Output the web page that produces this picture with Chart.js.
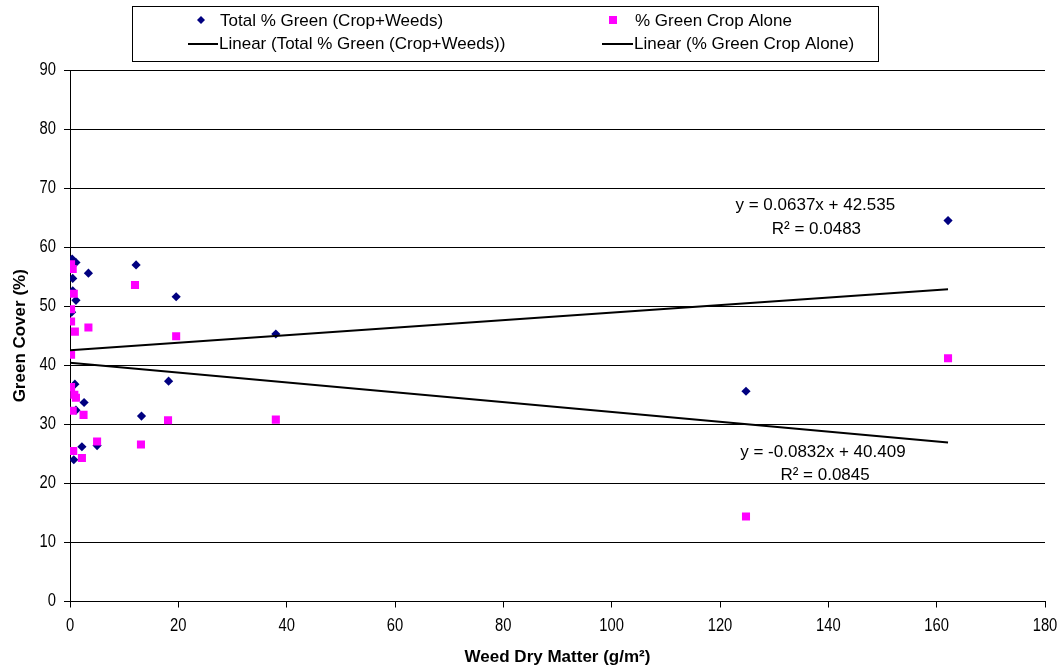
<!DOCTYPE html>
<html>
<head>
<meta charset="utf-8">
<title>Green Cover vs Weed Dry Matter</title>
<script src="https://cdn.jsdelivr.net/npm/chart.js@4/dist/chart.umd.min.js"></script>
<style>
  html, body { margin: 0; padding: 0; background: #fff; }
  #wrap { width: 1061px; height: 670px; }
</style>
</head>
<body>
<div id="wrap"><canvas id="chart" width="1061" height="670"></canvas></div>
<script>
// Total % green (crop + weeds) per plot
const totalX = [0.4, 1.1, 3.4, 0.5, 0.5, 1.1, 0.3, 0.9, 2.6, 1.1, 2.2, 5.0, 0.7, 12.2, 19.6, 18.2, 13.2, 38.0, 124.8, 162.1];
const totalY = [58.0, 57.4, 55.6, 54.7, 52.6, 51.0, 49.0, 36.8, 33.7, 32.4, 26.2, 26.4, 24.0, 57.0, 51.6, 37.3, 31.4, 45.3, 35.6, 64.5];

// % green crop alone per plot
const cropX = [0.2, 0.5, 12.0, 0.7, 0.2, 0.2, 0.9, 3.4, 19.6, 0.2, 0.2, 0.8, 1.1, 0.5, 2.5, 18.1, 5.0, 13.1, 0.6, 2.2, 38.0, 124.8, 162.1];
const cropY = [57.1, 56.3, 53.6, 52.1, 49.5, 47.4, 45.7, 46.4, 44.9, 41.8, 36.3, 35.0, 34.5, 32.3, 31.6, 30.7, 27.1, 26.6, 25.5, 24.3, 30.8, 14.4, 41.2];

// linear fits: [slope, intercept], and r squared
const totalFit = [0.0637, 42.535];
const cropFit = [-0.0832, 40.409];
const totalR2 = '0.0483';
const cropR2 = '0.0845';

const seriesNames = ['Total % Green (Crop+Weeds)', '% Green Crop Alone'];
const xTitle = 'Weed Dry Matter (g/m\u00b2)';
const yTitle = 'Green Cover (%)';

const NAVY = '#000080';
const PINK = '#ff00ff';
const FONT = "'Liberation Sans', Arial, sans-serif";
const CLEAR = 'rgba(0,0,0,0)';

function toPoints(xs, ys) {
  return xs.map((x, i) => ({ x: x, y: ys[i] }));
}

// trend line runs across the range of the data
function fitLine(fit, xs) {
  const lo = Math.min(...xs.concat([0]));
  const hi = Math.max(...xs);
  return [lo, hi].map(x => ({ x: x, y: fit[0] * x + fit[1] }));
}

function fmtEq(fit) {
  const sign = fit[1] < 0 ? '- ' : '+ ';
  return 'y = ' + fit[0] + 'x ' + sign + Math.abs(fit[1]);
}

// narrow tick text: squeeze the glyphs horizontally
function narrowText(ctx, text, x, y, align) {
  const sx = 0.82;
  ctx.save();
  ctx.translate(x, y);
  ctx.scale(sx, 1);
  ctx.textAlign = align;
  ctx.fillText(text, 0, 0);
  ctx.restore();
}

// two-column legend in a box, tick labels, and the regression equations
const extras = {
  id: 'extras',
  afterDraw(chart) {
    const ctx = chart.ctx;
    const xs = chart.scales.x, ys = chart.scales.y;
    ctx.save();

    // tick labels
    ctx.font = '18px ' + FONT;
    ctx.fillStyle = '#000';
    ctx.textBaseline = 'middle';
    xs.ticks.forEach(t => narrowText(ctx, String(t.value), xs.getPixelForValue(t.value), 626, 'center'));
    ys.ticks.forEach(t => narrowText(ctx, String(t.value), 56, ys.getPixelForValue(t.value), 'right'));

    // legend box
    ctx.strokeStyle = '#000';
    ctx.lineWidth = 1;
    ctx.strokeRect(132.5, 6.5, 746, 55);

    ctx.font = '17px ' + FONT;
    ctx.textAlign = 'left';

    // row 1: markers
    ctx.fillStyle = NAVY;
    ctx.beginPath();
    ctx.moveTo(201, 16); ctx.lineTo(205, 20); ctx.lineTo(201, 24); ctx.lineTo(197, 20);
    ctx.closePath();
    ctx.fill();
    ctx.fillStyle = '#000';
    ctx.fillText(seriesNames[0], 220, 21);

    ctx.fillStyle = PINK;
    ctx.fillRect(609, 16, 8, 8);
    ctx.fillStyle = '#000';
    ctx.fillText(seriesNames[1], 635, 21);

    // row 2: trend lines
    ctx.lineWidth = 2;
    ctx.beginPath();
    ctx.moveTo(188, 44); ctx.lineTo(218, 44);
    ctx.moveTo(602, 44); ctx.lineTo(633, 44);
    ctx.stroke();
    ctx.fillText('Linear (' + seriesNames[0] + ')', 219, 44);
    ctx.fillText('Linear (' + seriesNames[1] + ')', 634, 44);

    // equations next to the fit lines
    ctx.textAlign = 'center';
    ctx.fillText(fmtEq(totalFit), xs.getPixelForValue(137.6), ys.getPixelForValue(67.1));
    ctx.fillText('R\u00b2 = ' + totalR2, xs.getPixelForValue(137.8), ys.getPixelForValue(63.0));
    ctx.fillText(fmtEq(cropFit), xs.getPixelForValue(139.0), ys.getPixelForValue(25.3));
    ctx.fillText('R\u00b2 = ' + cropR2, xs.getPixelForValue(139.4), ys.getPixelForValue(21.4));
    ctx.restore();
  }
};

const ctx = document.getElementById('chart').getContext('2d');
const chart = new Chart(ctx, {
  type: 'scatter',
  data: {
    datasets: [
      {
        label: 'Linear (' + seriesNames[0] + ')',
        type: 'line',
        data: fitLine(totalFit, totalX),
        borderColor: '#000',
        borderWidth: 2,
        pointRadius: 0,
        fill: false,
        order: 0
      },
      {
        label: 'Linear (' + seriesNames[1] + ')',
        type: 'line',
        data: fitLine(cropFit, cropX),
        borderColor: '#000',
        borderWidth: 2,
        pointRadius: 0,
        fill: false,
        order: 0
      },
      {
        label: seriesNames[1],
        data: toPoints(cropX, cropY),
        pointStyle: 'rect',
        pointRadius: 5.7,
        backgroundColor: PINK,
        borderColor: PINK,
        borderWidth: 0,
        order: 1
      },
      {
        label: seriesNames[0],
        data: toPoints(totalX, totalY),
        pointStyle: 'rectRot',
        pointRadius: 4.6,
        backgroundColor: NAVY,
        borderColor: NAVY,
        borderWidth: 0,
        order: 2
      }
    ]
  },
  options: {
    responsive: false,
    animation: false,
    layout: { padding: { top: 70, right: 16, bottom: 0, left: 0 } },
    plugins: {
      legend: { display: false },
      tooltip: { enabled: false }
    },
    scales: {
      x: {
        type: 'linear',
        min: 0,
        max: 180,
        // labels are painted by the extras plugin
        ticks: { stepSize: 20, color: CLEAR, font: { family: FONT, size: 10 }, padding: 5, maxRotation: 0 },
        grid: { drawOnChartArea: false, drawTicks: true, tickLength: 6, color: '#000' },
        border: { color: '#000', width: 1 },
        title: { display: true, text: xTitle, color: '#000', font: { family: FONT, size: 17, weight: 'bold' }, padding: { top: 0, bottom: 2 } },
        afterFit: s => { s.height = 68.5; }
      },
      y: {
        min: 0,
        max: 90,
        ticks: { stepSize: 10, color: CLEAR, font: { family: FONT, size: 10 }, padding: 8 },
        grid: { color: '#000', lineWidth: 1, tickLength: 6 },
        border: { color: '#000', width: 1 },
        title: { display: true, text: yTitle, color: '#000', font: { family: FONT, size: 17, weight: 'bold' }, padding: { top: 10, bottom: 0 } },
        afterFit: s => { s.width = 70; }
      }
    }
  },
  plugins: [extras]
});
</script>
</body>
</html>
